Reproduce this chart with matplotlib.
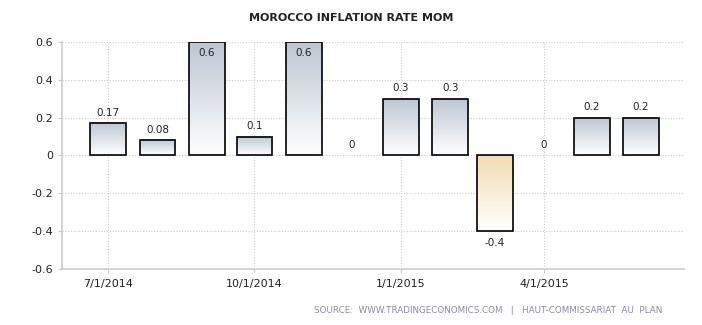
import datetime as dt

import matplotlib
import matplotlib.dates as mdates
import matplotlib.pyplot as plt
import numpy as np
from matplotlib.colors import LinearSegmentedColormap

matplotlib.use("Agg")

# ---------------------------------------------------------------------------
# Data
# ---------------------------------------------------------------------------
MONTHS = ["2014-07", "2014-08", "2014-09", "2014-10", "2014-11", "2014-12",
          "2015-01", "2015-02", "2015-03", "2015-04", "2015-05", "2015-06"]
VALUES = [0.17, 0.08, 0.6, 0.1, 0.6, 0.0, 0.3, 0.3, -0.4, 0.0, 0.2, 0.2]
LABELS = ["0.17", "0.08", "0.6", "0.1", "0.6", "0", "0.3", "0.3", "-0.4", "0", "0.2", "0.2"]
TICK_DATES = ["2014-07-01", "2014-10-01", "2015-01-01", "2015-04-01"]
TICK_LABELS = ["7/1/2014", "10/1/2014", "1/1/2015", "4/1/2015"]
Y_TICKS = [-0.6, -0.4, -0.2, 0, 0.2, 0.4, 0.6]

TITLE = "MOROCCO INFLATION RATE MOM"
SOURCE = "SOURCE:  WWW.TRADINGECONOMICS.COM   |   HAUT-COMMISSARIAT  AU  PLAN"

POS_CMAP = LinearSegmentedColormap.from_list("pos", ["#ffffff", "#bcc6d2"])
NEG_CMAP = LinearSegmentedColormap.from_list("neg", ["#ffffff", "#f3dcb2"])
BAR_DAYS = 22.5
YMIN, YMAX = -0.6, 0.6


def _date(s):
    return dt.datetime.strptime(s, "%Y-%m-%d" if s.count("-") == 2 else "%Y-%m")


fig = plt.figure(figsize=(7.02, 3.25), dpi=100)
ax = fig.add_axes([0.0883, 0.1723, 0.8861, 0.6985])

grad = np.linspace(0, 1, 256).reshape(-1, 1)
for m, v, lab in zip(MONTHS, VALUES, LABELS):
    x = mdates.date2num(_date(m))
    x0, x1 = x - BAR_DAYS / 2, x + BAR_DAYS / 2
    if v != 0:
        lo, hi = min(v, 0), max(v, 0)
        cmap = POS_CMAP if v > 0 else NEG_CMAP
        ax.imshow(grad, extent=(x0, x1, lo, hi), origin="lower", cmap=cmap,
                  aspect="auto", zorder=2)
        ax.add_patch(plt.Rectangle((x0, lo), BAR_DAYS, hi - lo, fill=False,
                                   ec="black", lw=1.2, zorder=3))
    if v >= YMAX - 1e-9:
        ax.annotate(lab, (x, v), xytext=(0, -4), textcoords="offset points",
                    ha="center", va="top", fontsize=7.5, color="#222222", zorder=4)
    elif v < 0:
        ax.annotate(lab, (x, v), xytext=(0, -5), textcoords="offset points",
                    ha="center", va="top", fontsize=7.5, color="#222222", zorder=4)
    else:
        ax.annotate(lab, (x, v), xytext=(0, 4), textcoords="offset points",
                    ha="center", va="bottom", fontsize=7.5, color="#222222", zorder=4)

ax.set_xlim(mdates.date2num(dt.datetime(2014, 6, 2)), mdates.date2num(dt.datetime(2015, 6, 28)))
ax.set_ylim(YMIN, YMAX)
ax.set_xticks([mdates.date2num(_date(d)) for d in TICK_DATES])
ax.set_xticklabels(TICK_LABELS)
ax.set_yticks(Y_TICKS)
ax.set_yticklabels([f"{t:g}" for t in Y_TICKS])

ax.grid(True, color="#cccccc", ls=(0, (1, 1.5)), lw=0.8, zorder=0)
ax.set_axisbelow(True)
for s in ("top", "right"):
    ax.spines[s].set_visible(False)
for s in ("left", "bottom"):
    ax.spines[s].set_color("#cccccc")
    ax.spines[s].set_linewidth(1.2)
ax.tick_params(axis="both", length=3, color="#cccccc", labelsize=8, labelcolor="#222222")
ax.tick_params(axis="x", pad=4)

fig.text(0.5, 0.945, TITLE, ha="center", va="center", fontsize=8, color="#222222",
         fontweight="bold")
fig.text(0.943, 0.045, SOURCE, ha="right", va="center", fontsize=6.3, color="#8a8aa0")

fig.savefig("out.png", dpi=100)
